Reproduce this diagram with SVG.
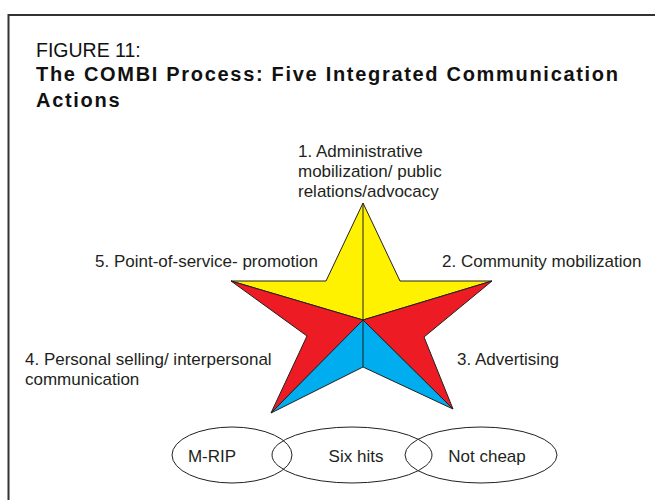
<svg xmlns="http://www.w3.org/2000/svg" width="655" height="500" viewBox="0 0 655 500">
<style>
.lbl{font-family:"Liberation Sans",Arial,sans-serif;font-size:17px;fill:#231f20}
.frame{stroke:#333;stroke-width:2;fill:none}
.st{stroke:#231f20;stroke-width:1;stroke-linejoin:miter}
.ell{fill:none;stroke:#231f20;stroke-width:1}
</style>
<rect width="655" height="500" fill="#fff"/>
<g id="frame">
<line class="frame" x1="8" y1="15" x2="655" y2="15"/>
<line class="frame" x1="8.5" y1="14" x2="8.5" y2="500"/>
</g>
<g id="title">
<text x="36" y="57" style="font-family:'Liberation Sans',Arial,sans-serif;font-size:19.5px;fill:#111">FIGURE 11:</text>
<text x="36" y="81" textLength="582" lengthAdjust="spacing" style="font-family:'Liberation Sans',Arial,sans-serif;font-size:20px;font-weight:bold;fill:#111">The COMBI Process: Five Integrated Communication</text>
<text x="36" y="107" style="font-family:'Liberation Sans',Arial,sans-serif;font-size:20px;font-weight:bold;letter-spacing:1.7px;fill:#111">Actions</text>
</g>
<g id="star">
<polygon class="st" fill="#fff200" points="231,281 326,281 363,203 400,281 492,281 363,320"/>
<polygon class="st" fill="#ed1c24" points="231,281 363,320 271,413 307,336"/>
<polygon class="st" fill="#ed1c24" points="492,281 424,337 453,409 363,320"/>
<polygon class="st" fill="#00aeef" points="363,320 271,413 363,367 453,409"/>
<line class="st" x1="363" y1="203" x2="363" y2="320"/>
<line class="st" x1="363" y1="320" x2="363" y2="367"/>
</g>
<g id="label1">
<text class="lbl" x="298" y="157">1. Administrative</text>
<text class="lbl" x="298" y="177">mobilization/ public</text>
<text class="lbl" x="298" y="197">relations/advocacy</text>
</g>
<g id="label2"><text class="lbl" x="442" y="267">2. Community mobilization</text></g>
<g id="label3"><text class="lbl" x="457" y="365">3. Advertising</text></g>
<g id="label4">
<text class="lbl" x="25" y="365">4. Personal selling/ interpersonal</text>
<text class="lbl" x="25" y="385">communication</text>
</g>
<g id="label5"><text class="lbl" x="95" y="267">5. Point-of-service- promotion</text></g>
<g id="mrip">
<ellipse class="ell" cx="232" cy="455" rx="60" ry="28"/>
<text class="lbl" x="212" y="462" text-anchor="middle">M-RIP</text>
</g>
<g id="sixhits">
<ellipse class="ell" cx="352" cy="455" rx="80" ry="28"/>
<text class="lbl" x="356" y="462" text-anchor="middle">Six hits</text>
</g>
<g id="notcheap">
<ellipse class="ell" cx="481" cy="455" rx="76" ry="28"/>
<text class="lbl" x="487" y="462" text-anchor="middle">Not cheap</text>
</g>
<g id="connectors"></g>
</svg>
